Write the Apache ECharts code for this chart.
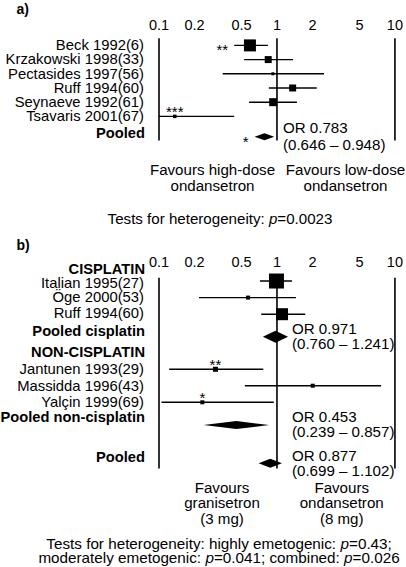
<!DOCTYPE html>
<html><head><meta charset="utf-8">
<script src="https://cdn.jsdelivr.net/npm/echarts@6/dist/echarts.min.js"></script>
<style>html,body{margin:0;padding:0;background:#fff}#c{width:406px;height:567px}</style>
</head><body><div id="c"></div>
<script>
// ---------- data ----------
const tickValues = [0.1, 0.2, 0.5, 1, 2, 5, 10];
const refValues = [0.1, 1, 10];

// panel a
const aStudies = ['Beck 1992(6)', 'Krzakowski 1998(33)', 'Pectasides 1997(56)', 'Ruff 1994(60)', 'Seynaeve 1992(61)', 'Tsavaris 2001(67)'];
const aOR     = [0.59, 0.843, 0.923, 1.358, 0.929, 0.136];
const aLow    = [0.434, 0.527, 0.347, 0.854, 0.58, 0.1];
const aHigh   = [0.838, 1.367, 2.506, 2.173, 1.476, 0.434];
const aWeight = [12, 7, 3, 7, 8, 3.5];
const aSig    = ['**', '', '', '', '', '***'];
const aPooledNames = ['Pooled'];
const aPooledOR = [0.783], aPooledLow = [0.646], aPooledHigh = [0.948];
const aPooledSig = ['*'];

// panel b
const bGroups  = ['CISPLATIN', 'NON-CISPLATIN'];
const bStudies = ['Italian 1995(27)', 'Öge 2000(53)', 'Ruff 1994(60)', 'Jantunen 1993(29)', 'Massidda 1996(43)', 'Yalçin 1999(69)'];
const bOR     = [0.99, 0.569, 1.104, 0.301, 2.01, 0.233];
const bLow    = [0.718, 0.218, 0.736, 0.122, 0.534, 0.105];
const bHigh   = [1.34, 1.448, 1.736, 0.765, 7.63, 0.94];
const bWeight = [15, 4, 12, 5, 4, 4];
const bSig    = ['', '', '', '**', '', '*'];
const bPooledNames = ['Pooled cisplatin', 'Pooled non-cisplatin', 'Pooled'];
const bPooledOR   = [0.971, 0.453, 0.877];
const bPooledLow  = [0.760, 0.239, 0.699];
const bPooledHigh = [1.241, 0.857, 1.102];
const bPooledSig  = ['', '', ''];

// ---------- layout (row positions, sizes) ----------
const aRows = [0, 1, 2, 3, 4, 5];
const aPooledLabelRows = [6.17], aPooledRows = [6.43], aDiamondHalf = [3.5];
const aRange = [-0.5, 6.7];
const bGroupRows = [-0.54, 4.46];
const bRows = [0.2, 1.2, 2.2, 5.52, 6.51, 7.51];
const bLabelRows = [0.33, 1.17, 2.15, 5.52, 6.51, 7.48];
const bPooledLabelRows = [3.25, 8.38, 10.79];
const bPooledRows = [3.56, 8.88, 11.19];
const bDiamondHalf = [6, 4, 4.5];
const bRange = [0, 11.5];
const aSigPos = ['left', '', '', '', '', 'top'];
const bSigPos = ['', '', '', 'top', '', 'top'];

const FONT = '"Liberation Sans", Arial, Helvetica, sans-serif';
const SX = 1.06;   // horizontal stretch of the reference lettering
const fmt = v => String(+(+v).toPrecision(3));
const fix3 = v => v.toFixed(3);
const orText = (o, l, h) => 'OR ' + fix3(o) + '\n(' + fix3(l) + ' \u2013 ' + fix3(h) + ')';

function studyRender(sigs, sigPos) {
  return function (params, api) {
    const row = api.value(3);
    const lo = api.coord([api.value(0), row]);
    const hi = api.coord([api.value(1), row]);
    const c = api.coord([api.value(2), row]);
    const s = api.value(4);
    const children = [
      { type: 'line', shape: { x1: lo[0], y1: lo[1], x2: hi[0], y2: hi[1] }, style: { stroke: '#000', lineWidth: 1.4 } },
      { type: 'rect', shape: { x: c[0] - s / 2, y: c[1] - s / 2, width: s, height: s }, style: { fill: '#000' } }
    ];
    const sig = sigs[params.dataIndex];
    if (sig) {
      const pos = sigPos[params.dataIndex];
      const x = pos === 'left' ? lo[0] - 6 : c[0];
      const y = pos === 'left' ? c[1] + 4.5 : c[1] - 4.5;
      children.push({ type: 'text', style: { text: sig, x: x, y: y, font: '15px ' + FONT, fill: '#000',
        align: pos === 'left' ? 'right' : 'center', verticalAlign: 'middle' } });
    }
    return { type: 'group', children: children };
  };
}
function diamondRender(halfs, sigs, ors, orDist, orLH) {
  return function (params, api) {
    const i = params.dataIndex;
    const row = api.value(3);
    const lo = api.coord([api.value(0), row]);
    const hi = api.coord([api.value(1), row]);
    const c = api.coord([api.value(2), row]);
    const one = api.coord([1, row]);
    const h = halfs[i];
    const children = [{ type: 'polygon', shape: { points: [[lo[0], lo[1]], [c[0], c[1] - h], [hi[0], hi[1]], [c[0], c[1] + h]] }, style: { fill: '#000' } }];
    if (sigs[i]) children.push({ type: 'text', style: { text: sigs[i], x: lo[0] - 6, y: lo[1] + 5, font: '15px ' + FONT, fill: '#000', align: 'right', verticalAlign: 'middle' } });
    children.push({ type: 'text', x: one[0] + orDist, y: one[1], scaleX: SX + 0.02,
      style: { text: ors[i], x: 0, y: 0, font: '14px ' + FONT, lineHeight: orLH, fill: '#000', align: 'left', verticalAlign: 'middle' } });
    return { type: 'group', children: children };
  };
}
function labelRender(names, bolds) {
  return function (params, api) {
    const p = api.coord([api.value(0), api.value(1)]);
    const b = bolds[params.dataIndex];
    return { type: 'text', x: p[0] - (b ? 14 : 15), y: p[1], scaleX: b ? 1.05 : SX,
      style: { text: names[params.dataIndex], x: 0, y: 0, font: (b ? 'bold ' : '') + '14px ' + FONT, fill: '#000', align: 'right', verticalAlign: 'middle' } };
  };
}
function refRender(params, api) {
  const p0 = api.coord([api.value(0), api.value(1)]);
  const p1 = api.coord([api.value(0), api.value(2)]);
  return { type: 'line', shape: { x1: p0[0], y1: p0[1], x2: p1[0], y2: p1[1] }, style: { stroke: '#000', lineWidth: 1.6 } };
}
function xAxisFor(i, margin) {
  return { type: 'log', logBase: 10, min: 0.1, max: 10, gridIndex: i, position: 'top',
    axisLine: { show: false }, axisTick: { show: false }, splitLine: { show: false }, minorSplitLine: { show: false },
    axisLabel: { customValues: tickValues, margin: margin, fontSize: 14.5, color: '#000', fontFamily: FONT, formatter: v => fmt(v) } };
}
function panelSeries(xi, p) {
  const common = { type: 'custom', xAxisIndex: xi, yAxisIndex: xi, silent: true, clip: false };
  const names = p.studies.concat(p.groups || [], p.pooledNames);
  const rows = p.labelRows.concat(p.groupRows || [], p.pooledLabelRows);
  const bolds = names.map((n, i) => i >= p.studies.length);
  return [
    Object.assign({}, common, { encode: { x: 0, y: [1, 2] }, data: refValues.map(v => [v, p.range[0], p.range[1]]), renderItem: refRender }),
    Object.assign({}, common, { encode: { x: [0, 1, 2], y: 3 },
      data: p.studies.map((n, i) => [p.low[i], p.high[i], p.or[i], p.rows[i], p.weight[i]]), renderItem: studyRender(p.sig, p.sigPos) }),
    Object.assign({}, common, { encode: { x: [0, 1, 2], y: 3 },
      data: p.pooledNames.map((n, i) => [p.pLow[i], p.pHigh[i], p.pOR[i], p.pRows[i]]),
      renderItem: diamondRender(p.half, p.pSig, p.pooledNames.map((n, i) => orText(p.pOR[i], p.pLow[i], p.pHigh[i])), p.orDist, p.orLH) }),
    Object.assign({}, common, { encode: { x: 0, y: 1 }, data: rows.map(r => [0.1, r]), renderItem: labelRender(names, bolds) })
  ];
}

const option = {
  animation: false,
  backgroundColor: '#fff',
  textStyle: { fontFamily: FONT },
  grid: [
    { left: 159, right: 8.7, top: 38.3, height: 102.2 },
    { left: 159, right: 8.7, top: 277.7, height: 190.8 }
  ],
  xAxis: [xAxisFor(0, 6), xAxisFor(1, 8.7)],
  yAxis: [
    { type: 'value', gridIndex: 0, inverse: true, min: aRange[0], max: aRange[1], show: false },
    { type: 'value', gridIndex: 1, inverse: true, min: bRange[0], max: bRange[1], show: false }
  ],
  series: [].concat(
    panelSeries(0, { studies: aStudies, or: aOR, low: aLow, high: aHigh, weight: aWeight, sig: aSig, sigPos: aSigPos,
      rows: aRows, labelRows: aRows, range: aRange, pooledNames: aPooledNames, pOR: aPooledOR, pLow: aPooledLow, pHigh: aPooledHigh,
      pSig: aPooledSig, pRows: aPooledRows, pooledLabelRows: aPooledLabelRows, half: aDiamondHalf, orDist: 6, orLH: 17.7 }),
    panelSeries(1, { studies: bStudies, or: bOR, low: bLow, high: bHigh, weight: bWeight, sig: bSig, sigPos: bSigPos,
      rows: bRows, labelRows: bLabelRows, groups: bGroups, groupRows: bGroupRows, range: bRange, pooledNames: bPooledNames,
      pOR: bPooledOR, pLow: bPooledLow, pHigh: bPooledHigh, pSig: bPooledSig, pRows: bPooledRows, pooledLabelRows: bPooledLabelRows,
      half: bDiamondHalf, orDist: 15, orLH: 15 })
  ),
  graphic: [
    { type: 'text', silent: true, x: 16.5, y: 9, style: { text: 'a)', font: 'bold 14px ' + FONT, fill: '#000', align: 'left', verticalAlign: 'middle' } },
    { type: 'text', silent: true, x: 16.5, y: 245, style: { text: 'b)', font: 'bold 14px ' + FONT, fill: '#000', align: 'left', verticalAlign: 'middle' } },
    { type: 'text', silent: true, x: 212.5, y: 178.3, scaleX: 1.08, style: { text: 'Favours high-dose\nondansetron', font: '14px ' + FONT, lineHeight: 16.7, fill: '#000', align: 'center', verticalAlign: 'middle' } },
    { type: 'text', silent: true, x: 345.5, y: 178.3, scaleX: 1.08, style: { text: 'Favours low-dose\nondansetron', font: '14px ' + FONT, lineHeight: 16.7, fill: '#000', align: 'center', verticalAlign: 'middle' } },
    { type: 'text', silent: true, x: 220, y: 219, scaleX: 1.08, style: { text: 'Tests for heterogeneity: {i|p}=0.0023', font: '14px ' + FONT, fill: '#000', align: 'center', verticalAlign: 'middle',
      rich: { i: { fontStyle: 'italic', fontSize: 14, fontFamily: FONT } } } },
    { type: 'text', silent: true, x: 222, y: 503.5, scaleX: 1.08, style: { text: 'Favours\ngranisetron\n(3 mg)', font: '14px ' + FONT, lineHeight: 15.7, fill: '#000', align: 'center', verticalAlign: 'middle' } },
    { type: 'text', silent: true, x: 341.7, y: 503.5, scaleX: 1.08, style: { text: 'Favours\nondansetron\n(8 mg)', font: '14px ' + FONT, lineHeight: 15.7, fill: '#000', align: 'center', verticalAlign: 'middle' } },
    { type: 'text', silent: true, x: 219, y: 544.2, scaleX: 1.09, style: { text: 'Tests for heterogeneity: highly emetogenic: {i|p}=0.43;', font: '14px ' + FONT, fill: '#000', align: 'center', verticalAlign: 'middle',
      rich: { i: { fontStyle: 'italic', fontSize: 14, fontFamily: FONT } } } },
    { type: 'text', silent: true, x: 219, y: 557.8, scaleX: 1.09, style: { text: 'moderately emetogenic: {i|p}=0.041; combined: {i|p}=0.026', font: '14px ' + FONT, fill: '#000', align: 'center', verticalAlign: 'middle',
      rich: { i: { fontStyle: 'italic', fontSize: 14, fontFamily: FONT } } } }
  ]
};
const chart = echarts.init(document.getElementById('c'), null, { renderer: 'svg' });
chart.setOption(option);
</script></body></html>
